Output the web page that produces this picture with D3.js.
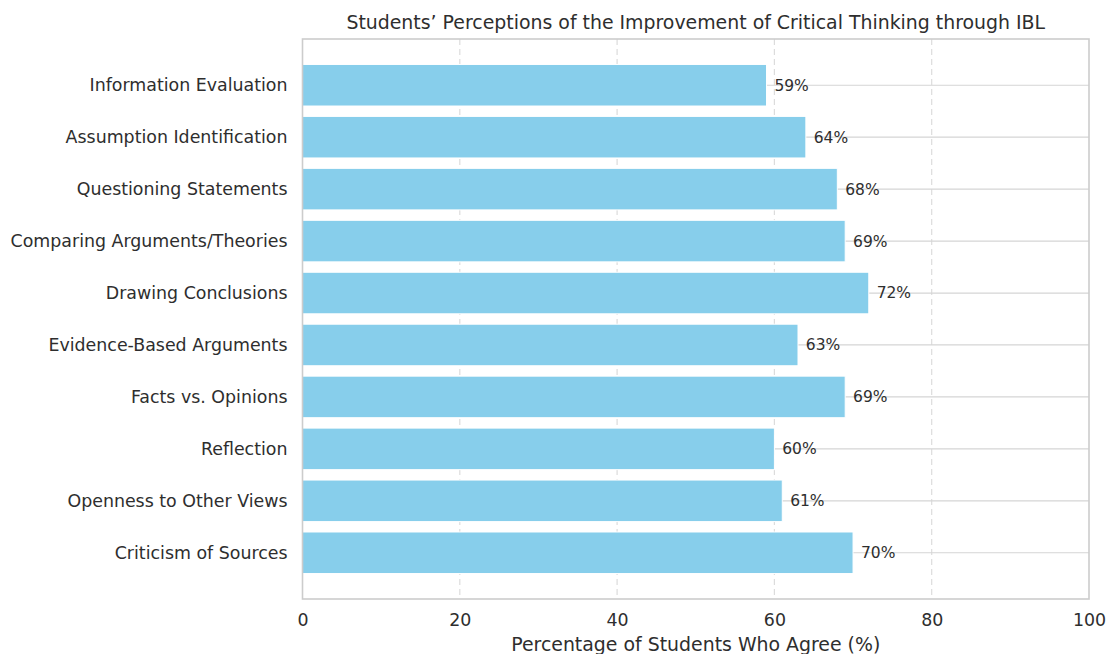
<!DOCTYPE html>
<html><head><meta charset="utf-8">
<script src="https://cdn.jsdelivr.net/npm/d3@7"></script>
<style>body{margin:0;background:#fff;} text{font-family:"DejaVu Sans",sans-serif;}</style>
</head><body>
<svg id="c" width="1108" height="654"></svg>
<script>
const categories = ["Criticism of Sources","Openness to Other Views","Reflection","Facts vs. Opinions","Evidence-Based Arguments","Drawing Conclusions","Comparing Arguments/Theories","Questioning Statements","Assumption Identification","Information Evaluation"];
const values = [70,61,60,69,63,72,69,68,64,59];
const xTicks = [0,20,40,60,80,100];
const title = "Students\u2019 Perceptions of the Improvement of Critical Thinking through IBL";
const xLabel = "Percentage of Students Who Agree (%)";

const svg = d3.select("#c");
const L=302.5, R=1089, T=39, B=599;
const x = d3.scaleLinear().domain([0,100]).range([L,R]);
const y = d3.scaleLinear().domain([-0.89,9.89]).range([B,T]);
const bh = y(0)-y(0.8);
const textCol = "#2e2e2e";

// vertical dashed grid
svg.append("g").selectAll("line").data(xTicks.slice(1,-1)).join("line")
  .attr("x1",d=>x(d)).attr("x2",d=>x(d)).attr("y1",T).attr("y2",B)
  .attr("stroke","#dcdcdc").attr("stroke-width",1.2).attr("stroke-dasharray","6,4");
// horizontal grid
svg.append("g").selectAll("line").data(categories).join("line")
  .attr("x1",L).attr("x2",R).attr("y1",(d,i)=>y(i)).attr("y2",(d,i)=>y(i))
  .attr("stroke","#d5d5d5").attr("stroke-width",1.2);
// bars
svg.append("g").selectAll("rect").data(values).join("rect")
  .attr("x",x(0)).attr("y",(d,i)=>y(i)-bh/2).attr("width",d=>x(d)-x(0)).attr("height",bh)
  .attr("fill","#87ceeb").attr("stroke","#fff").attr("stroke-width",1);
// value labels
svg.append("g").selectAll("text").data(values).join("text")
  .attr("x",d=>x(d+1)).attr("y",(d,i)=>y(i)).attr("dy","0.35em")
  .attr("font-size",15.5).attr("fill",textCol).text(d=>d+"%");
// frame
svg.append("rect").attr("x",L).attr("y",T).attr("width",R-L).attr("height",B-T)
  .attr("fill","none").attr("stroke","#cccccc").attr("stroke-width",1.6);
// y tick labels
svg.append("g").selectAll("text").data(categories).join("text")
  .attr("x",L-15).attr("y",(d,i)=>y(i)).attr("dy","0.35em").attr("text-anchor","end")
  .attr("font-size",17.4).attr("fill",textCol).text(d=>d);
// x ticks
const xa = svg.append("g").attr("transform",`translate(0,${B})`)
  .call(d3.axisBottom(x).tickValues(xTicks).tickSize(0).tickPadding(15).tickFormat(d3.format("d")));
xa.select(".domain").remove();
xa.selectAll("text").attr("font-size",17.4).attr("fill",textCol).attr("font-family","DejaVu Sans");
// labels
svg.append("text").attr("x",(L+R)/2).attr("y",651).attr("text-anchor","middle")
  .attr("font-size",18.9).attr("fill",textCol).text(xLabel);
svg.append("text").attr("x",(L+R)/2).attr("y",29).attr("text-anchor","middle")
  .attr("font-size",18.9).attr("fill",textCol).text(title);
</script>
</body></html>
